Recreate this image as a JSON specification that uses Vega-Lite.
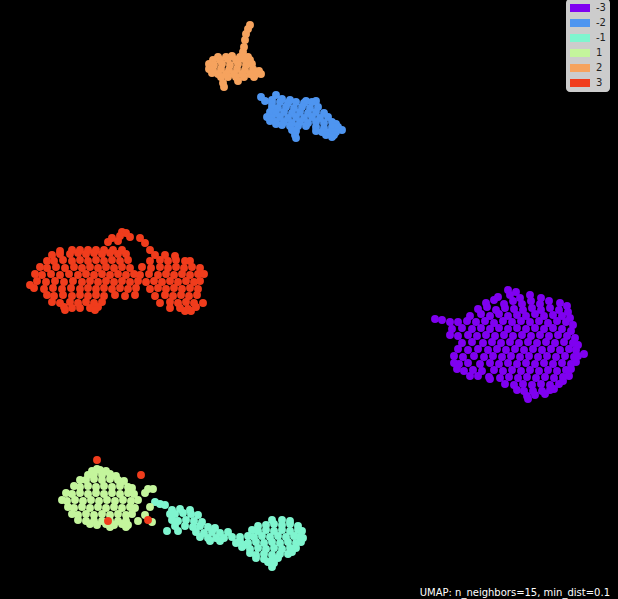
{"$schema":"https://vega.github.io/schema/vega-lite/v6.json","width":618,"height":599,"autosize":"none","padding":0,"background":"#000000","config":{"view":{"stroke":null}},
"title":{"text":"UMAP: n_neighbors=15, min_dist=0.1","orient":"bottom","anchor":"end","color":"#ffffff","fontSize":10,"font":"DejaVu Sans","fontWeight":"normal","offset":-11,"dx":-8},
"datasets":{"pts":[
{"x":508,"y":290,"label":"-3"},{"x":516,"y":292,"label":"-3"},
{"x":498,"y":297,"label":"-3"},{"x":510,"y":295,"label":"-3"},{"x":520,"y":298,"label":"-3"},{"x":530,"y":295,"label":"-3"},{"x":541,"y":298,"label":"-3"},
{"x":486,"y":303,"label":"-3"},{"x":494,"y":300,"label":"-3"},{"x":504,"y":304,"label":"-3"},{"x":513,"y":301,"label":"-3"},{"x":522,"y":304,"label":"-3"},{"x":531,"y":301,"label":"-3"},{"x":540,"y":304,"label":"-3"},{"x":549,"y":301,"label":"-3"},{"x":560,"y":303,"label":"-3"},{"x":567,"y":306,"label":"-3"},
{"x":478,"y":309,"label":"-3"},{"x":487,"y":307,"label":"-3"},{"x":496,"y":310,"label":"-3"},{"x":505,"y":308,"label":"-3"},{"x":514,"y":309,"label":"-3"},{"x":523,"y":310,"label":"-3"},{"x":532,"y":308,"label":"-3"},{"x":541,"y":310,"label":"-3"},{"x":550,"y":308,"label":"-3"},{"x":559,"y":310,"label":"-3"},{"x":568,"y":312,"label":"-3"},
{"x":470,"y":316,"label":"-3"},{"x":481,"y":314,"label":"-3"},{"x":490,"y":316,"label":"-3"},{"x":499,"y":314,"label":"-3"},{"x":508,"y":316,"label":"-3"},{"x":517,"y":315,"label":"-3"},{"x":526,"y":316,"label":"-3"},{"x":535,"y":314,"label":"-3"},{"x":544,"y":316,"label":"-3"},{"x":553,"y":315,"label":"-3"},{"x":562,"y":316,"label":"-3"},{"x":570,"y":318,"label":"-3"},
{"x":435,"y":319,"label":"-3"},{"x":442,"y":320,"label":"-3"},{"x":450,"y":322,"label":"-3"},{"x":458,"y":322,"label":"-3"},{"x":467,"y":321,"label":"-3"},{"x":476,"y":322,"label":"-3"},{"x":485,"y":321,"label":"-3"},{"x":494,"y":323,"label":"-3"},{"x":503,"y":321,"label":"-3"},{"x":512,"y":322,"label":"-3"},{"x":521,"y":321,"label":"-3"},{"x":530,"y":322,"label":"-3"},{"x":539,"y":321,"label":"-3"},{"x":548,"y":323,"label":"-3"},{"x":557,"y":321,"label":"-3"},{"x":566,"y":322,"label":"-3"},{"x":573,"y":325,"label":"-3"},
{"x":452,"y":329,"label":"-3"},{"x":462,"y":328,"label":"-3"},{"x":472,"y":329,"label":"-3"},{"x":481,"y":328,"label":"-3"},{"x":490,"y":329,"label":"-3"},{"x":499,"y":328,"label":"-3"},{"x":508,"y":329,"label":"-3"},{"x":517,"y":328,"label":"-3"},{"x":526,"y":329,"label":"-3"},{"x":535,"y":328,"label":"-3"},{"x":544,"y":329,"label":"-3"},{"x":553,"y":328,"label":"-3"},{"x":562,"y":329,"label":"-3"},{"x":571,"y":331,"label":"-3"},
{"x":450,"y":335,"label":"-3"},{"x":458,"y":336,"label":"-3"},{"x":468,"y":335,"label":"-3"},{"x":477,"y":336,"label":"-3"},{"x":486,"y":335,"label":"-3"},{"x":495,"y":336,"label":"-3"},{"x":504,"y":335,"label":"-3"},{"x":513,"y":336,"label":"-3"},{"x":522,"y":335,"label":"-3"},{"x":531,"y":336,"label":"-3"},{"x":540,"y":335,"label":"-3"},{"x":549,"y":336,"label":"-3"},{"x":558,"y":335,"label":"-3"},{"x":567,"y":336,"label":"-3"},{"x":575,"y":338,"label":"-3"},
{"x":462,"y":343,"label":"-3"},{"x":472,"y":342,"label":"-3"},{"x":483,"y":343,"label":"-3"},{"x":492,"y":342,"label":"-3"},{"x":501,"y":343,"label":"-3"},{"x":510,"y":342,"label":"-3"},{"x":519,"y":343,"label":"-3"},{"x":528,"y":342,"label":"-3"},{"x":537,"y":343,"label":"-3"},{"x":546,"y":342,"label":"-3"},{"x":555,"y":343,"label":"-3"},{"x":564,"y":342,"label":"-3"},{"x":573,"y":343,"label":"-3"},{"x":578,"y":345,"label":"-3"},
{"x":458,"y":349,"label":"-3"},{"x":468,"y":350,"label":"-3"},{"x":478,"y":349,"label":"-3"},{"x":488,"y":350,"label":"-3"},{"x":497,"y":349,"label":"-3"},{"x":506,"y":350,"label":"-3"},{"x":515,"y":349,"label":"-3"},{"x":524,"y":350,"label":"-3"},{"x":533,"y":349,"label":"-3"},{"x":542,"y":350,"label":"-3"},{"x":551,"y":349,"label":"-3"},{"x":560,"y":350,"label":"-3"},{"x":569,"y":349,"label":"-3"},{"x":576,"y":350,"label":"-3"},{"x":584,"y":354,"label":"-3"},
{"x":454,"y":356,"label":"-3"},{"x":463,"y":357,"label":"-3"},{"x":474,"y":356,"label":"-3"},{"x":484,"y":357,"label":"-3"},{"x":493,"y":356,"label":"-3"},{"x":502,"y":357,"label":"-3"},{"x":511,"y":356,"label":"-3"},{"x":520,"y":357,"label":"-3"},{"x":529,"y":356,"label":"-3"},{"x":538,"y":357,"label":"-3"},{"x":547,"y":356,"label":"-3"},{"x":556,"y":357,"label":"-3"},{"x":565,"y":356,"label":"-3"},{"x":574,"y":357,"label":"-3"},{"x":578,"y":356,"label":"-3"},
{"x":454,"y":363,"label":"-3"},{"x":459,"y":364,"label":"-3"},{"x":468,"y":363,"label":"-3"},{"x":480,"y":364,"label":"-3"},{"x":490,"y":363,"label":"-3"},{"x":499,"y":364,"label":"-3"},{"x":508,"y":363,"label":"-3"},{"x":517,"y":364,"label":"-3"},{"x":526,"y":363,"label":"-3"},{"x":535,"y":364,"label":"-3"},{"x":544,"y":363,"label":"-3"},{"x":553,"y":364,"label":"-3"},{"x":562,"y":363,"label":"-3"},{"x":571,"y":364,"label":"-3"},{"x":576,"y":362,"label":"-3"},
{"x":457,"y":369,"label":"-3"},{"x":464,"y":371,"label":"-3"},{"x":473,"y":370,"label":"-3"},{"x":482,"y":371,"label":"-3"},{"x":494,"y":370,"label":"-3"},{"x":503,"y":371,"label":"-3"},{"x":512,"y":370,"label":"-3"},{"x":521,"y":371,"label":"-3"},{"x":530,"y":370,"label":"-3"},{"x":539,"y":371,"label":"-3"},{"x":548,"y":370,"label":"-3"},{"x":557,"y":371,"label":"-3"},{"x":566,"y":370,"label":"-3"},{"x":571,"y":369,"label":"-3"},
{"x":470,"y":376,"label":"-3"},{"x":478,"y":376,"label":"-3"},{"x":489,"y":377,"label":"-3"},{"x":500,"y":378,"label":"-3"},{"x":509,"y":377,"label":"-3"},{"x":518,"y":378,"label":"-3"},{"x":527,"y":377,"label":"-3"},{"x":536,"y":378,"label":"-3"},{"x":545,"y":377,"label":"-3"},{"x":554,"y":378,"label":"-3"},{"x":563,"y":377,"label":"-3"},{"x":569,"y":376,"label":"-3"},
{"x":490,"y":379,"label":"-3"},{"x":505,"y":384,"label":"-3"},{"x":514,"y":385,"label":"-3"},{"x":523,"y":384,"label":"-3"},{"x":532,"y":385,"label":"-3"},{"x":541,"y":384,"label":"-3"},{"x":550,"y":385,"label":"-3"},{"x":559,"y":384,"label":"-3"},{"x":563,"y":381,"label":"-3"},
{"x":517,"y":390,"label":"-3"},{"x":524,"y":391,"label":"-3"},{"x":533,"y":391,"label":"-3"},{"x":542,"y":391,"label":"-3"},{"x":550,"y":390,"label":"-3"},{"x":554,"y":389,"label":"-3"},
{"x":527,"y":396,"label":"-3"},{"x":535,"y":395,"label":"-3"},{"x":545,"y":394,"label":"-3"},{"x":528,"y":399,"label":"-3"},
{"x":272,"y":100,"label":"-2"},{"x":261,"y":97,"label":"-2"},{"x":265,"y":101,"label":"-2"},{"x":276,"y":95,"label":"-2"},
{"x":282,"y":99,"label":"-2"},{"x":290,"y":100,"label":"-2"},{"x":306,"y":101,"label":"-2"},{"x":316,"y":101,"label":"-2"},
{"x":272,"y":103,"label":"-2"},{"x":280,"y":102,"label":"-2"},{"x":288,"y":103,"label":"-2"},{"x":296,"y":102,"label":"-2"},{"x":304,"y":103,"label":"-2"},{"x":312,"y":102,"label":"-2"},
{"x":272,"y":107,"label":"-2"},{"x":278,"y":108,"label":"-2"},{"x":286,"y":107,"label":"-2"},{"x":294,"y":108,"label":"-2"},{"x":302,"y":107,"label":"-2"},{"x":310,"y":108,"label":"-2"},{"x":318,"y":107,"label":"-2"},
{"x":270,"y":112,"label":"-2"},{"x":276,"y":113,"label":"-2"},{"x":284,"y":112,"label":"-2"},{"x":292,"y":113,"label":"-2"},{"x":300,"y":112,"label":"-2"},{"x":308,"y":113,"label":"-2"},{"x":316,"y":112,"label":"-2"},{"x":324,"y":113,"label":"-2"},
{"x":267,"y":117,"label":"-2"},{"x":272,"y":118,"label":"-2"},{"x":280,"y":117,"label":"-2"},{"x":288,"y":118,"label":"-2"},{"x":296,"y":117,"label":"-2"},{"x":304,"y":118,"label":"-2"},{"x":312,"y":117,"label":"-2"},{"x":320,"y":118,"label":"-2"},{"x":328,"y":117,"label":"-2"},
{"x":270,"y":121,"label":"-2"},{"x":276,"y":122,"label":"-2"},{"x":284,"y":122,"label":"-2"},{"x":292,"y":123,"label":"-2"},{"x":300,"y":122,"label":"-2"},{"x":308,"y":123,"label":"-2"},{"x":316,"y":122,"label":"-2"},{"x":324,"y":123,"label":"-2"},{"x":332,"y":122,"label":"-2"},{"x":336,"y":124,"label":"-2"},
{"x":276,"y":124,"label":"-2"},{"x":282,"y":125,"label":"-2"},{"x":290,"y":126,"label":"-2"},{"x":298,"y":126,"label":"-2"},{"x":306,"y":126,"label":"-2"},{"x":316,"y":127,"label":"-2"},{"x":324,"y":128,"label":"-2"},{"x":332,"y":127,"label":"-2"},{"x":338,"y":127,"label":"-2"},{"x":342,"y":130,"label":"-2"},
{"x":292,"y":130,"label":"-2"},{"x":296,"y":131,"label":"-2"},{"x":316,"y":131,"label":"-2"},{"x":322,"y":132,"label":"-2"},{"x":330,"y":132,"label":"-2"},{"x":336,"y":132,"label":"-2"},
{"x":295,"y":135,"label":"-2"},{"x":326,"y":135,"label":"-2"},{"x":334,"y":135,"label":"-2"},{"x":296,"y":138,"label":"-2"},{"x":332,"y":137,"label":"-2"},
{"x":155,"y":502,"label":"-1"},{"x":160,"y":504,"label":"-1"},{"x":165,"y":505,"label":"-1"},
{"x":172,"y":510,"label":"-1"},{"x":180,"y":509,"label":"-1"},{"x":190,"y":510,"label":"-1"},
{"x":170,"y":514,"label":"-1"},{"x":175,"y":514,"label":"-1"},{"x":183,"y":513,"label":"-1"},{"x":191,"y":514,"label":"-1"},{"x":198,"y":515,"label":"-1"},
{"x":172,"y":520,"label":"-1"},{"x":178,"y":521,"label":"-1"},{"x":186,"y":520,"label":"-1"},{"x":194,"y":521,"label":"-1"},{"x":202,"y":522,"label":"-1"},
{"x":167,"y":531,"label":"-1"},{"x":175,"y":526,"label":"-1"},{"x":185,"y":526,"label":"-1"},{"x":193,"y":527,"label":"-1"},{"x":200,"y":526,"label":"-1"},{"x":208,"y":527,"label":"-1"},{"x":215,"y":528,"label":"-1"},
{"x":178,"y":531,"label":"-1"},{"x":196,"y":532,"label":"-1"},{"x":204,"y":533,"label":"-1"},{"x":212,"y":532,"label":"-1"},{"x":220,"y":533,"label":"-1"},{"x":228,"y":532,"label":"-1"},
{"x":200,"y":537,"label":"-1"},{"x":208,"y":538,"label":"-1"},{"x":216,"y":538,"label":"-1"},{"x":224,"y":538,"label":"-1"},{"x":232,"y":537,"label":"-1"},{"x":240,"y":537,"label":"-1"},
{"x":210,"y":541,"label":"-1"},{"x":220,"y":541,"label":"-1"},{"x":236,"y":543,"label":"-1"},{"x":244,"y":545,"label":"-1"},
{"x":272,"y":520,"label":"-1"},{"x":282,"y":520,"label":"-1"},{"x":290,"y":521,"label":"-1"},
{"x":258,"y":526,"label":"-1"},{"x":266,"y":525,"label":"-1"},{"x":274,"y":524,"label":"-1"},{"x":282,"y":525,"label":"-1"},{"x":290,"y":524,"label":"-1"},{"x":298,"y":526,"label":"-1"},
{"x":252,"y":530,"label":"-1"},{"x":258,"y":531,"label":"-1"},{"x":266,"y":530,"label":"-1"},{"x":274,"y":531,"label":"-1"},{"x":282,"y":530,"label":"-1"},{"x":290,"y":531,"label":"-1"},{"x":298,"y":530,"label":"-1"},{"x":302,"y":531,"label":"-1"},
{"x":248,"y":536,"label":"-1"},{"x":254,"y":537,"label":"-1"},{"x":262,"y":536,"label":"-1"},{"x":270,"y":537,"label":"-1"},{"x":278,"y":536,"label":"-1"},{"x":286,"y":537,"label":"-1"},{"x":294,"y":536,"label":"-1"},{"x":300,"y":537,"label":"-1"},{"x":303,"y":538,"label":"-1"},
{"x":240,"y":541,"label":"-1"},{"x":248,"y":543,"label":"-1"},{"x":256,"y":542,"label":"-1"},{"x":264,"y":543,"label":"-1"},{"x":272,"y":542,"label":"-1"},{"x":280,"y":543,"label":"-1"},{"x":288,"y":542,"label":"-1"},{"x":296,"y":543,"label":"-1"},{"x":301,"y":542,"label":"-1"},
{"x":242,"y":547,"label":"-1"},{"x":250,"y":549,"label":"-1"},{"x":258,"y":548,"label":"-1"},{"x":266,"y":549,"label":"-1"},{"x":274,"y":548,"label":"-1"},{"x":282,"y":549,"label":"-1"},{"x":290,"y":548,"label":"-1"},{"x":296,"y":548,"label":"-1"},
{"x":250,"y":553,"label":"-1"},{"x":256,"y":555,"label":"-1"},{"x":264,"y":554,"label":"-1"},{"x":272,"y":555,"label":"-1"},{"x":280,"y":554,"label":"-1"},{"x":288,"y":554,"label":"-1"},{"x":292,"y":552,"label":"-1"},
{"x":256,"y":558,"label":"-1"},{"x":264,"y":559,"label":"-1"},{"x":272,"y":560,"label":"-1"},{"x":278,"y":558,"label":"-1"},{"x":268,"y":562,"label":"-1"},{"x":274,"y":563,"label":"-1"},{"x":272,"y":567,"label":"-1"},
{"x":97,"y":469,"label":"1"},{"x":92,"y":471,"label":"1"},{"x":100,"y":470,"label":"1"},{"x":106,"y":471,"label":"1"},
{"x":88,"y":475,"label":"1"},{"x":94,"y":474,"label":"1"},{"x":102,"y":475,"label":"1"},{"x":110,"y":474,"label":"1"},{"x":116,"y":476,"label":"1"},
{"x":80,"y":480,"label":"1"},{"x":86,"y":480,"label":"1"},{"x":94,"y":479,"label":"1"},{"x":102,"y":480,"label":"1"},{"x":110,"y":479,"label":"1"},{"x":118,"y":480,"label":"1"},{"x":124,"y":481,"label":"1"},
{"x":74,"y":486,"label":"1"},{"x":80,"y":487,"label":"1"},{"x":88,"y":486,"label":"1"},{"x":96,"y":487,"label":"1"},{"x":104,"y":486,"label":"1"},{"x":112,"y":487,"label":"1"},{"x":120,"y":486,"label":"1"},{"x":128,"y":487,"label":"1"},{"x":132,"y":488,"label":"1"},{"x":148,"y":489,"label":"1"},{"x":153,"y":489,"label":"1"},
{"x":66,"y":493,"label":"1"},{"x":72,"y":494,"label":"1"},{"x":80,"y":493,"label":"1"},{"x":88,"y":494,"label":"1"},{"x":96,"y":493,"label":"1"},{"x":104,"y":494,"label":"1"},{"x":112,"y":493,"label":"1"},{"x":120,"y":494,"label":"1"},{"x":128,"y":493,"label":"1"},{"x":134,"y":494,"label":"1"},{"x":145,"y":493,"label":"1"},
{"x":62,"y":500,"label":"1"},{"x":67,"y":501,"label":"1"},{"x":75,"y":500,"label":"1"},{"x":83,"y":501,"label":"1"},{"x":91,"y":500,"label":"1"},{"x":99,"y":501,"label":"1"},{"x":107,"y":500,"label":"1"},{"x":115,"y":501,"label":"1"},{"x":123,"y":500,"label":"1"},{"x":131,"y":501,"label":"1"},{"x":138,"y":500,"label":"1"},
{"x":68,"y":507,"label":"1"},{"x":74,"y":508,"label":"1"},{"x":82,"y":507,"label":"1"},{"x":90,"y":508,"label":"1"},{"x":98,"y":507,"label":"1"},{"x":106,"y":508,"label":"1"},{"x":114,"y":507,"label":"1"},{"x":122,"y":508,"label":"1"},{"x":130,"y":507,"label":"1"},{"x":135,"y":508,"label":"1"},{"x":150,"y":507,"label":"1"},
{"x":72,"y":514,"label":"1"},{"x":78,"y":515,"label":"1"},{"x":86,"y":514,"label":"1"},{"x":94,"y":515,"label":"1"},{"x":102,"y":514,"label":"1"},{"x":110,"y":515,"label":"1"},{"x":118,"y":514,"label":"1"},{"x":126,"y":515,"label":"1"},{"x":132,"y":514,"label":"1"},{"x":145,"y":515,"label":"1"},
{"x":78,"y":520,"label":"1"},{"x":86,"y":521,"label":"1"},{"x":94,"y":521,"label":"1"},{"x":102,"y":521,"label":"1"},{"x":110,"y":521,"label":"1"},{"x":118,"y":521,"label":"1"},{"x":126,"y":521,"label":"1"},{"x":138,"y":521,"label":"1"},{"x":152,"y":522,"label":"1"},
{"x":90,"y":524,"label":"1"},{"x":97,"y":525,"label":"1"},{"x":106,"y":524,"label":"1"},{"x":114,"y":525,"label":"1"},{"x":122,"y":524,"label":"1"},{"x":128,"y":525,"label":"1"},{"x":110,"y":527,"label":"1"},{"x":126,"y":527,"label":"1"},
{"x":250,"y":25,"label":"2"},{"x":248,"y":29,"label":"2"},{"x":246,"y":34,"label":"2"},{"x":245,"y":40,"label":"2"},{"x":244,"y":47,"label":"2"},{"x":243,"y":52,"label":"2"},
{"x":218,"y":57,"label":"2"},{"x":226,"y":57,"label":"2"},{"x":232,"y":56,"label":"2"},{"x":240,"y":57,"label":"2"},{"x":248,"y":57,"label":"2"},
{"x":213,"y":60,"label":"2"},{"x":220,"y":60,"label":"2"},{"x":228,"y":59,"label":"2"},{"x":236,"y":60,"label":"2"},{"x":244,"y":59,"label":"2"},{"x":250,"y":60,"label":"2"},
{"x":209,"y":64,"label":"2"},{"x":214,"y":65,"label":"2"},{"x":222,"y":64,"label":"2"},{"x":230,"y":65,"label":"2"},{"x":238,"y":64,"label":"2"},{"x":246,"y":65,"label":"2"},{"x":252,"y":64,"label":"2"},
{"x":209,"y":69,"label":"2"},{"x":213,"y":70,"label":"2"},{"x":221,"y":69,"label":"2"},{"x":229,"y":70,"label":"2"},{"x":237,"y":69,"label":"2"},{"x":245,"y":70,"label":"2"},{"x":253,"y":69,"label":"2"},{"x":259,"y":71,"label":"2"},
{"x":212,"y":73,"label":"2"},{"x":218,"y":74,"label":"2"},{"x":226,"y":74,"label":"2"},{"x":234,"y":74,"label":"2"},{"x":242,"y":74,"label":"2"},{"x":250,"y":74,"label":"2"},{"x":256,"y":74,"label":"2"},{"x":261,"y":74,"label":"2"},
{"x":221,"y":77,"label":"2"},{"x":228,"y":77,"label":"2"},{"x":236,"y":77,"label":"2"},{"x":244,"y":77,"label":"2"},{"x":254,"y":77,"label":"2"},
{"x":223,"y":83,"label":"2"},{"x":238,"y":81,"label":"2"},{"x":224,"y":87,"label":"2"},
{"x":122,"y":232,"label":"3"},{"x":126,"y":233,"label":"3"},{"x":112,"y":238,"label":"3"},{"x":120,"y":236,"label":"3"},{"x":130,"y":237,"label":"3"},{"x":140,"y":238,"label":"3"},{"x":108,"y":242,"label":"3"},{"x":118,"y":241,"label":"3"},{"x":145,"y":243,"label":"3"},
{"x":60,"y":251,"label":"3"},{"x":72,"y":250,"label":"3"},{"x":80,"y":250,"label":"3"},{"x":88,"y":250,"label":"3"},{"x":96,"y":250,"label":"3"},{"x":104,"y":250,"label":"3"},{"x":113,"y":250,"label":"3"},{"x":122,"y":250,"label":"3"},{"x":150,"y":250,"label":"3"},
{"x":52,"y":255,"label":"3"},{"x":60,"y":254,"label":"3"},{"x":70,"y":254,"label":"3"},{"x":78,"y":253,"label":"3"},{"x":86,"y":254,"label":"3"},{"x":94,"y":253,"label":"3"},{"x":102,"y":254,"label":"3"},{"x":110,"y":253,"label":"3"},{"x":118,"y":254,"label":"3"},{"x":126,"y":254,"label":"3"},{"x":155,"y":255,"label":"3"},{"x":165,"y":255,"label":"3"},{"x":175,"y":256,"label":"3"},
{"x":47,"y":261,"label":"3"},{"x":54,"y":261,"label":"3"},{"x":63,"y":260,"label":"3"},{"x":72,"y":261,"label":"3"},{"x":80,"y":260,"label":"3"},{"x":88,"y":261,"label":"3"},{"x":96,"y":260,"label":"3"},{"x":104,"y":261,"label":"3"},{"x":112,"y":260,"label":"3"},{"x":120,"y":261,"label":"3"},{"x":128,"y":260,"label":"3"},{"x":150,"y":261,"label":"3"},{"x":160,"y":260,"label":"3"},{"x":168,"y":261,"label":"3"},{"x":176,"y":260,"label":"3"},{"x":185,"y":261,"label":"3"},{"x":190,"y":261,"label":"3"},
{"x":40,"y":267,"label":"3"},{"x":47,"y":268,"label":"3"},{"x":56,"y":267,"label":"3"},{"x":65,"y":268,"label":"3"},{"x":74,"y":267,"label":"3"},{"x":82,"y":268,"label":"3"},{"x":90,"y":267,"label":"3"},{"x":98,"y":268,"label":"3"},{"x":106,"y":267,"label":"3"},{"x":114,"y":268,"label":"3"},{"x":122,"y":267,"label":"3"},{"x":130,"y":268,"label":"3"},{"x":142,"y":267,"label":"3"},{"x":151,"y":268,"label":"3"},{"x":160,"y":267,"label":"3"},{"x":168,"y":268,"label":"3"},{"x":176,"y":267,"label":"3"},{"x":184,"y":268,"label":"3"},{"x":192,"y":267,"label":"3"},{"x":200,"y":268,"label":"3"},
{"x":35,"y":274,"label":"3"},{"x":42,"y":275,"label":"3"},{"x":51,"y":274,"label":"3"},{"x":60,"y":275,"label":"3"},{"x":69,"y":274,"label":"3"},{"x":78,"y":275,"label":"3"},{"x":86,"y":274,"label":"3"},{"x":94,"y":275,"label":"3"},{"x":102,"y":274,"label":"3"},{"x":110,"y":275,"label":"3"},{"x":118,"y":274,"label":"3"},{"x":126,"y":275,"label":"3"},{"x":134,"y":274,"label":"3"},{"x":140,"y":275,"label":"3"},{"x":149,"y":274,"label":"3"},{"x":158,"y":275,"label":"3"},{"x":166,"y":274,"label":"3"},{"x":174,"y":275,"label":"3"},{"x":182,"y":274,"label":"3"},{"x":190,"y":275,"label":"3"},{"x":198,"y":274,"label":"3"},{"x":204,"y":274,"label":"3"},
{"x":30,"y":285,"label":"3"},{"x":37,"y":281,"label":"3"},{"x":46,"y":282,"label":"3"},{"x":55,"y":281,"label":"3"},{"x":64,"y":282,"label":"3"},{"x":73,"y":281,"label":"3"},{"x":82,"y":282,"label":"3"},{"x":90,"y":281,"label":"3"},{"x":98,"y":282,"label":"3"},{"x":106,"y":281,"label":"3"},{"x":114,"y":282,"label":"3"},{"x":122,"y":281,"label":"3"},{"x":130,"y":282,"label":"3"},{"x":138,"y":281,"label":"3"},{"x":146,"y":282,"label":"3"},{"x":154,"y":281,"label":"3"},{"x":162,"y":282,"label":"3"},{"x":170,"y":281,"label":"3"},{"x":178,"y":282,"label":"3"},{"x":186,"y":281,"label":"3"},{"x":194,"y":282,"label":"3"},{"x":200,"y":281,"label":"3"},
{"x":34,"y":288,"label":"3"},{"x":44,"y":289,"label":"3"},{"x":53,"y":288,"label":"3"},{"x":62,"y":289,"label":"3"},{"x":71,"y":288,"label":"3"},{"x":80,"y":289,"label":"3"},{"x":88,"y":288,"label":"3"},{"x":96,"y":289,"label":"3"},{"x":104,"y":288,"label":"3"},{"x":112,"y":289,"label":"3"},{"x":120,"y":288,"label":"3"},{"x":128,"y":289,"label":"3"},{"x":136,"y":288,"label":"3"},{"x":150,"y":289,"label":"3"},{"x":158,"y":288,"label":"3"},{"x":166,"y":289,"label":"3"},{"x":174,"y":288,"label":"3"},{"x":182,"y":289,"label":"3"},{"x":190,"y":288,"label":"3"},{"x":198,"y":289,"label":"3"},
{"x":47,"y":295,"label":"3"},{"x":54,"y":296,"label":"3"},{"x":63,"y":295,"label":"3"},{"x":72,"y":296,"label":"3"},{"x":80,"y":295,"label":"3"},{"x":88,"y":296,"label":"3"},{"x":96,"y":295,"label":"3"},{"x":104,"y":296,"label":"3"},{"x":115,"y":295,"label":"3"},{"x":125,"y":296,"label":"3"},{"x":135,"y":295,"label":"3"},{"x":155,"y":296,"label":"3"},{"x":165,"y":295,"label":"3"},{"x":173,"y":296,"label":"3"},{"x":181,"y":295,"label":"3"},{"x":189,"y":296,"label":"3"},{"x":197,"y":295,"label":"3"},{"x":203,"y":303,"label":"3"},
{"x":52,"y":302,"label":"3"},{"x":60,"y":303,"label":"3"},{"x":70,"y":302,"label":"3"},{"x":78,"y":303,"label":"3"},{"x":86,"y":302,"label":"3"},{"x":94,"y":303,"label":"3"},{"x":102,"y":302,"label":"3"},{"x":160,"y":303,"label":"3"},{"x":170,"y":302,"label":"3"},{"x":178,"y":303,"label":"3"},{"x":186,"y":302,"label":"3"},{"x":194,"y":303,"label":"3"},
{"x":64,"y":307,"label":"3"},{"x":72,"y":308,"label":"3"},{"x":80,"y":308,"label":"3"},{"x":90,"y":308,"label":"3"},{"x":98,"y":307,"label":"3"},{"x":170,"y":308,"label":"3"},{"x":180,"y":308,"label":"3"},{"x":188,"y":309,"label":"3"},{"x":196,"y":307,"label":"3"},
{"x":65,"y":310,"label":"3"},{"x":95,"y":310,"label":"3"},{"x":185,"y":311,"label":"3"},{"x":191,"y":311,"label":"3"},
{"x":97,"y":460,"label":"3"},{"x":141,"y":475,"label":"3"},{"x":108,"y":521,"label":"3"},{"x":148,"y":520,"label":"3"}
]},
"data":{"name":"pts"},
"mark":{"type":"circle","size":62,"opacity":1},
"encoding":{
"x":{"field":"x","type":"quantitative","scale":{"domain":[0,618]},"axis":null},
"y":{"field":"y","type":"quantitative","scale":{"domain":[599,0]},"axis":null},
"color":{"field":"label","type":"ordinal","scale":{"domain":["-3","-2","-1","1","2","3"],"range":["#7f00f0","#4e95f0","#7ff5cf","#c4f59c","#f6a35e","#f03c1c"]},
"legend":{"title":null,"orient":"none","legendX":566,"legendY":-1,"fillColor":"#cccccc","cornerRadius":4,"padding":4,"symbolType":"M-1,-0.8H3V0.8H-1Z","symbolSize":100,"symbolOpacity":1,"symbolStrokeWidth":0,"labelOffset":16,"labelFontSize":10,"labelFont":"DejaVu Sans","labelColor":"#222222","rowPadding":5}}
}}
